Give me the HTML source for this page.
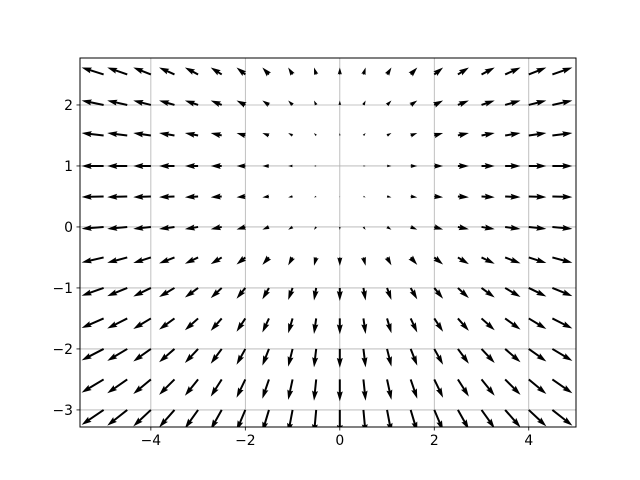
<!DOCTYPE html>
<html><head><meta charset="utf-8"><style>
body{margin:0;background:#fff}
svg{display:block;font-family:"DejaVu Sans","Liberation Sans",sans-serif}
</style></head><body>
<svg id="chart" width="640" height="480" viewBox="0 0 640 480">
<defs><clipPath id="clip"><rect x="80" y="58" width="496" height="369"/></clipPath></defs>
<rect x="0" y="0" width="640" height="480" fill="#fff"/>
<g id="grid"></g>
<g id="arrows" clip-path="url(#clip)"></g>
<rect x="80" y="58" width="496" height="369" fill="none" stroke="#000" stroke-width="1"/>
<g id="ticks"></g>
</svg>
<script>
const xTicks = [-4, -2, 0, 2, 4];
const yTicks = [-3, -2, -1, 0, 1, 2];
const xs = [-5.5,-5,-4.5,-4,-3.5,-3,-2.5,-2,-1.5,-1,-0.5,0,0.5,1,1.5,2,2.5,3,3.5,4,4.5,5];
const ys = [-3,-2.5,-2,-1.5,-1,-0.5,0,0.5,1,1.5,2,2.5];
// horizontal component per column (screen px)
const colU = [-24,-22,-20,-17.6,-15.4,-13.2,-11,-8.8,-6.6,-4.4,-2.2,0,2.2,4.4,6.6,8.8,11,13.2,15.4,17.6,20,22];
// vertical component per row at x=0 (screen px, up positive)
const rowV = [-25,-22,-19,-16,-13,-8.5,-3,-1,0,2.5,4.5,7];
// vertical damping per column (applied to downward vectors)
const colDamp = [0.58,0.6,0.63,0.66,0.7,0.74,0.78,0.83,0.88,0.93,0.97,1,0.97,0.93,0.88,0.83,0.78,0.74,0.7,0.66,0.63,0.6];

const X0=-5.5, X1=5, Y0=-3.28, Y1=2.77, L=80, R=576, T=58, B=427;
const sx = v => L + (v - X0) / (X1 - X0) * (R - L);
const sy = v => B - (v - Y0) / (Y1 - Y0) * (B - T);
const NS = "http://www.w3.org/2000/svg";
const grid = document.getElementById('grid');
const ticks = document.getElementById('ticks');
const arrows = document.getElementById('arrows');
function mk(tag, attrs, parent){const e=document.createElementNS(NS,tag);for(const k in attrs)e.setAttribute(k,attrs[k]);parent.appendChild(e);return e;}

xTicks.forEach(t=>{
  const x=sx(t);
  const g=mk('line',{x1:x,x2:x,y1:T,y2:B,stroke:'#b0b0b0','stroke-width':0.8},grid);
  
  
  const tk=mk('line',{x1:x,x2:x,y1:B,y2:B+3.5,stroke:'#000','stroke-width':0.8},ticks);
  
  
  const tx=mk('text',{x:x,y:B+18,'font-size':13.9,'text-anchor':'middle',fill:'#000'},ticks);
  tx.textContent=(t<0?'\u2212'+(-t):t);
  
  
});
yTicks.forEach(t=>{
  const y=sy(t);
  const g=mk('line',{x1:L,x2:R,y1:y,y2:y,stroke:'#b0b0b0','stroke-width':0.8},grid);
  
  
  const tk=mk('line',{x1:L-3.5,x2:L,y1:y,y2:y,stroke:'#000','stroke-width':0.8},ticks);
  
  
  const tx=mk('text',{x:L-7,y:y+5,'font-size':13.9,'text-anchor':'end',fill:'#000'},ticks);
  tx.textContent=(t<0?'\u2212'+(-t):t);
  
  
});

const w=2.0;
ys.forEach((yv,j)=>{
  xs.forEach((xv,i)=>{
    const v0=rowV[j];
    const u=colU[i], v=v0<0 ? v0*colDamp[i] : v0;
    const len=Math.hypot(u,v);
    if(len<0.3) return;
    const ux=u/len, uy=-v/len, px=-uy, py=ux;
    const tx=sx(xv), ty=sy(yv);
    let hl=5*w, hw=1.5*w, ha=4.5*w, sw=w/2, s=1;
    if(len<hl){s=len/hl;}
    hl*=s; hw*=s; ha*=s; sw*=s;
    const shaftEnd=len-ha;
    const pts=[
      [0,sw],[shaftEnd,sw],[len-hl,hw],[len,0],[len-hl,-hw],[shaftEnd,-sw],[0,-sw]
    ].map(([a,b])=>(tx+ux*a+px*b).toFixed(2)+','+(ty+uy*a+py*b).toFixed(2)).join(' ');
    const p=mk('polygon',{points:pts,fill:'#000'},arrows);
    
    
  });
});
</script>
</body></html>
